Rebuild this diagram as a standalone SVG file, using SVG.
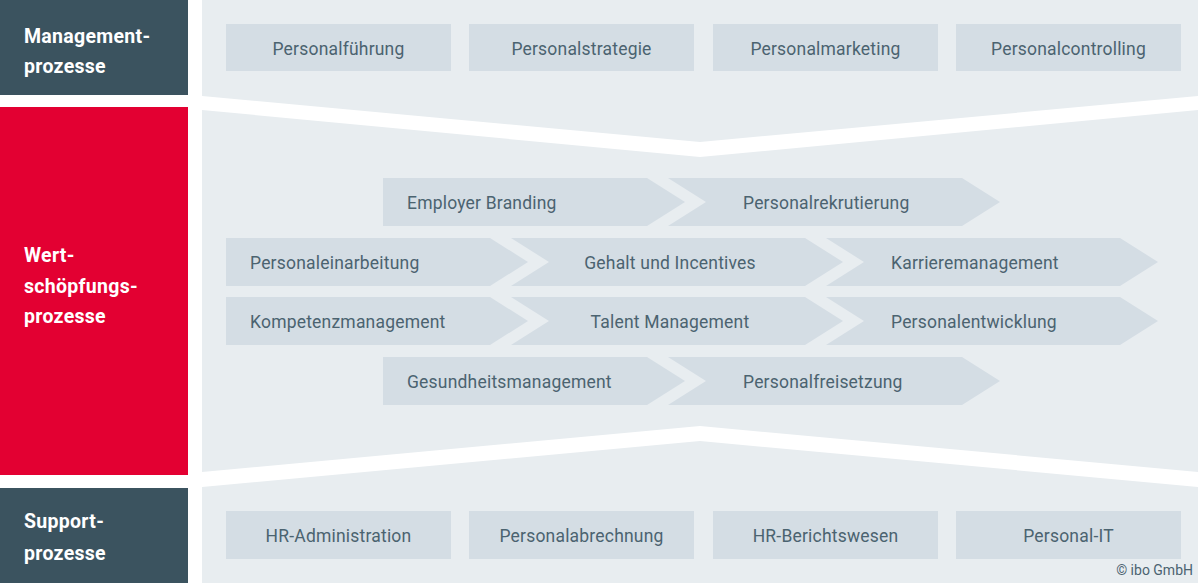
<svg xmlns="http://www.w3.org/2000/svg" width="1200" height="583" viewBox="0 0 1200 583">
<style>
.panel{fill:#e8edf0}
.box{fill:#d4dde4}
.lbl{font-family:Roboto,"Liberation Sans",sans-serif;font-size:17.5px;fill:#4b6370;letter-spacing:0.2px}
.cat{font-family:Roboto,"Liberation Sans",sans-serif;font-size:19.5px;font-weight:bold;fill:#ffffff;letter-spacing:0.3px}
.copy{font-family:Roboto,"Liberation Sans",sans-serif;font-size:14px;fill:#4b6370}
</style>
<rect width="1200" height="583" fill="#ffffff"/>
<g id="panels">
<polygon class="panel" points="202,0 1198,0 1198,96 700,142 202,96"/>
<polygon class="panel" points="202,110 700,157 1198,110 1198,472 700,426 202,472"/>
<polygon class="panel" points="202,487 700,441 1198,487 1198,583 202,583"/>
</g>
<g id="cat-management">
<rect x="0" y="0" width="188" height="95" fill="#3b535f"/>
<text class="cat" x="24" y="43">Management-</text>
<text class="cat" x="24" y="73">prozesse</text>
</g>
<g id="cat-wertschoepfung">
<rect x="0" y="107" width="188" height="368" fill="#e30032"/>
<text class="cat" x="24" y="262">Wert-</text>
<text class="cat" x="24" y="293">schöpfungs-</text>
<text class="cat" x="24" y="323">prozesse</text>
</g>
<g id="cat-support">
<rect x="0" y="488" width="188" height="95" fill="#3b535f"/>
<text class="cat" x="24" y="528">Support-</text>
<text class="cat" x="24" y="560">prozesse</text>
</g>
<g id="n-personalfuehrung"><rect class="box" x="226" y="24" width="225" height="47"/><text class="lbl" x="338.5" y="55" text-anchor="middle">Personalführung</text></g>
<g id="n-personalstrategie"><rect class="box" x="469" y="24" width="225" height="47"/><text class="lbl" x="581.5" y="55" text-anchor="middle">Personalstrategie</text></g>
<g id="n-personalmarketing"><rect class="box" x="713" y="24" width="225" height="47"/><text class="lbl" x="825.5" y="55" text-anchor="middle">Personalmarketing</text></g>
<g id="n-personalcontrolling"><rect class="box" x="956" y="24" width="225" height="47"/><text class="lbl" x="1068.5" y="55" text-anchor="middle">Personalcontrolling</text></g>
<g id="n-employer-branding"><polygon class="box" points="383,178 647,178 685,202 647,226 383,226"/><text class="lbl" x="407" y="209">Employer Branding</text></g>
<g id="n-personalrekrutierung"><polygon class="box" points="668,178 962,178 1000,202 962,226 668,226 706,202"/><text class="lbl" x="743" y="209">Personalrekrutierung</text></g>
<g id="n-personaleinarbeitung"><polygon class="box" points="226,238 490,238 528,262 490,286 226,286"/><text class="lbl" x="250" y="269">Personaleinarbeitung</text></g>
<g id="n-gehalt"><polygon class="box" points="511,238 805,238 843,262 805,286 511,286 549,262"/><text class="lbl" x="670" y="269" text-anchor="middle">Gehalt und Incentives</text></g>
<g id="n-karrieremanagement"><polygon class="box" points="826,238 1120,238 1158,262 1120,286 826,286 864,262"/><text class="lbl" x="891" y="269">Karrieremanagement</text></g>
<g id="n-kompetenzmanagement"><polygon class="box" points="226,297 490,297 528,321 490,345 226,345"/><text class="lbl" x="250" y="328">Kompetenzmanagement</text></g>
<g id="n-talent-management"><polygon class="box" points="511,297 805,297 843,321 805,345 511,345 549,321"/><text class="lbl" x="670" y="328" text-anchor="middle">Talent Management</text></g>
<g id="n-personalentwicklung"><polygon class="box" points="826,297 1120,297 1158,321 1120,345 826,345 864,321"/><text class="lbl" x="891" y="328">Personalentwicklung</text></g>
<g id="n-gesundheitsmanagement"><polygon class="box" points="383,357 647,357 685,381 647,405 383,405"/><text class="lbl" x="407" y="388">Gesundheitsmanagement</text></g>
<g id="n-personalfreisetzung"><polygon class="box" points="668,357 962,357 1000,381 962,405 668,405 706,381"/><text class="lbl" x="743" y="388">Personalfreisetzung</text></g>
<g id="n-hr-administration"><rect class="box" x="226" y="511" width="225" height="48"/><text class="lbl" x="338.5" y="542" text-anchor="middle">HR-Administration</text></g>
<g id="n-personalabrechnung"><rect class="box" x="469" y="511" width="225" height="48"/><text class="lbl" x="581.5" y="542" text-anchor="middle">Personalabrechnung</text></g>
<g id="n-hr-berichtswesen"><rect class="box" x="713" y="511" width="225" height="48"/><text class="lbl" x="825.5" y="542" text-anchor="middle">HR-Berichtswesen</text></g>
<g id="n-personal-it"><rect class="box" x="956" y="511" width="225" height="48"/><text class="lbl" x="1068.5" y="542" text-anchor="middle">Personal-IT</text></g>
<g id="connectors"></g>
<text class="copy" x="1193" y="575" text-anchor="end">© ibo GmbH</text>
</svg>
